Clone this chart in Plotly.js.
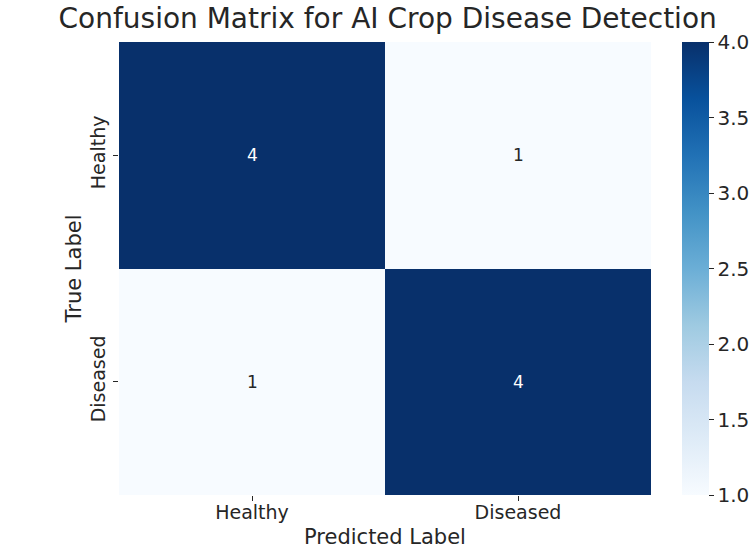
<!DOCTYPE html>
<html>
<head>
<meta charset="utf-8">
<script src="https://cdn.plot.ly/plotly-3.0.1.min.js"></script>
<style>html,body{margin:0;padding:0;background:#fff;}#chart{width:756px;height:549px;}</style>
</head>
<body>
<div id="chart"></div>
<script>
const predictedLabels = ["Healthy", "Diseased"];
const trueLabels = ["Healthy", "Diseased"];
const matrixValues = [
  [4, 1],
  [1, 4]
];
const colorbarTicks = [1.0, 1.5, 2.0, 2.5, 3.0, 3.5, 4.0];

const blues = [
  [0, "#f7fbff"], [0.125, "#deebf7"], [0.25, "#c6dbef"], [0.375, "#9ecae1"],
  [0.5, "#6baed6"], [0.625, "#4292c6"], [0.75, "#2171b5"], [0.875, "#08519c"], [1, "#08306b"]
];
const font = "DejaVu Sans, sans-serif";
const txt = "#262626";

const annotations = [];
trueLabels.forEach((t, i) => predictedLabels.forEach((p, j) => {
  const v = matrixValues[i][j];
  annotations.push({
    x: p, y: t, text: String(v), showarrow: false,
    font: {family: font, size: 17, color: v > 2.5 ? "#ffffff" : txt}
  });
}));

const trace = {
  type: "heatmap",
  x: predictedLabels,
  y: trueLabels,
  z: matrixValues,
  zmin: 1, zmax: 4,
  colorscale: blues,
  xgap: 0, ygap: 0,
  hoverinfo: "skip",
  colorbar: {
    x: 1.058, xanchor: "left", xref: "paper",
    y: 0.5, yanchor: "middle", len: 1, lenmode: "fraction",
    thickness: 27, thicknessmode: "pixels",
    outlinewidth: 0, xpad: 0, ypad: 0,
    tickvals: colorbarTicks,
    ticktext: colorbarTicks.map(v => v.toFixed(1)),
    ticks: "outside", ticklen: 5, tickcolor: txt,
    tickfont: {family: font, size: 20, color: txt}
  }
};

const layout = {
  width: 756, height: 549,
  margin: {l: 119, r: 105, t: 42, b: 54, autoexpand: false},
  paper_bgcolor: "#fff", plot_bgcolor: "#fff",
  title: {
    text: "Confusion Matrix for AI Crop Disease Detection",
    font: {family: font, size: 28, color: txt},
    x: 0.505, xanchor: "center", xref: "paper",
    y: 0.966, yanchor: "middle", yref: "container"
  },
  xaxis: {
    type: "category",
    title: {text: "Predicted Label", font: {family: font, size: 21, color: txt}, standoff: 7},
    tickfont: {family: font, size: 19, color: txt},
    ticklabelstandoff: -5,
    ticks: "outside", ticklen: 5, tickcolor: txt,
    showgrid: false, zeroline: false, showline: false
  },
  yaxis: {
    type: "category",
    autorange: "reversed",
    title: {text: "True Label", font: {family: font, size: 21, color: txt}, standoff: 0},
    tickfont: {family: font, size: 19, color: txt},
    tickangle: -90,
    ticks: "outside", ticklen: 5, tickcolor: txt,
    showgrid: false, zeroline: false, showline: false
  },
  annotations: annotations
};

Plotly.newPlot("chart", [trace], layout, {displayModeBar: false, staticPlot: true});
</script>
</body>
</html>
